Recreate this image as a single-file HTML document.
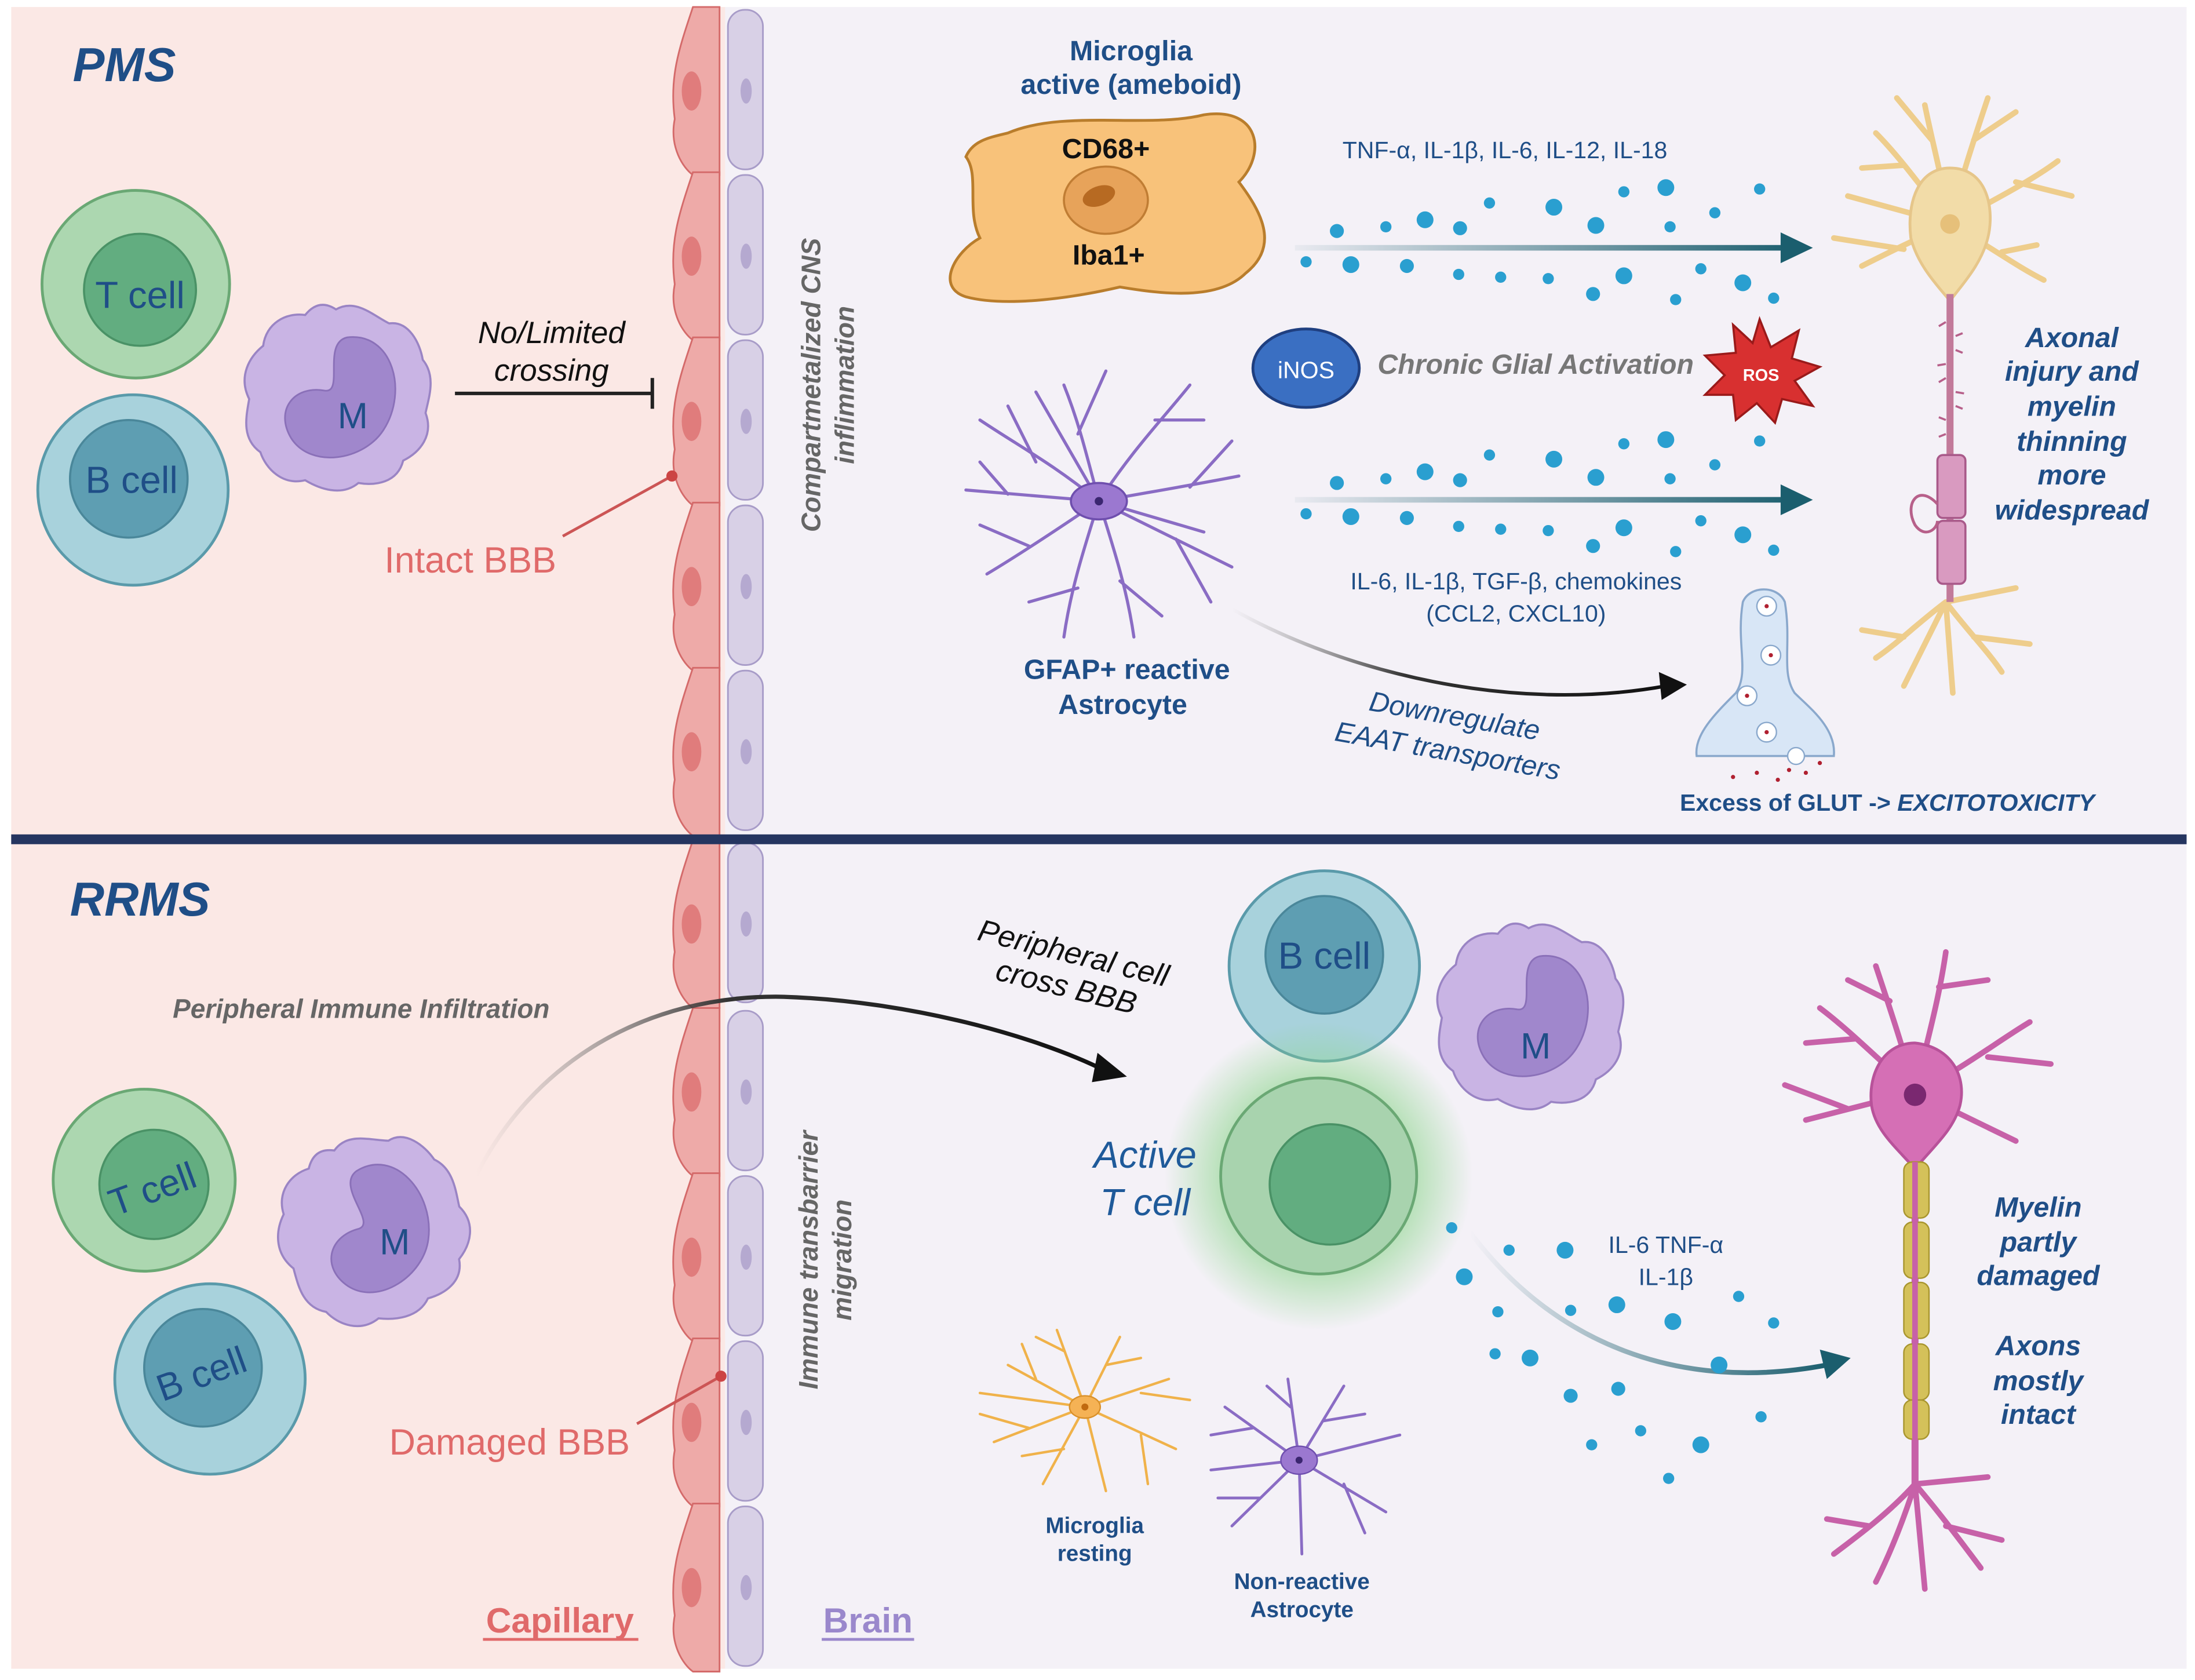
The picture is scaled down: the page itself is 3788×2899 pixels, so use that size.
<!DOCTYPE html>
<html><head><meta charset="utf-8"><style>
html,body{margin:0;padding:0;background:#fff}
svg{display:block}
text{font-family:"Liberation Sans",sans-serif}
</style></head><body>
<svg width="3788" height="2899" viewBox="0 0 1568 1200" xmlns="http://www.w3.org/2000/svg">
<defs>
<radialGradient id="glow"><stop offset="0.5" stop-color="#8fd68f" stop-opacity="0.8"/><stop offset="1" stop-color="#8fd68f" stop-opacity="0"/></radialGradient>
<linearGradient id="tealL" x1="0" x2="1"><stop offset="0" stop-color="#1b5e6e" stop-opacity="0"/><stop offset="1" stop-color="#1b5e6e"/></linearGradient>
<linearGradient id="tealH" gradientUnits="userSpaceOnUse" x1="925" y1="0" x2="1285" y2="0"><stop offset="0" stop-color="#1b5e6e" stop-opacity="0.05"/><stop offset="1" stop-color="#1b5e6e"/></linearGradient>
<linearGradient id="greyL" x1="0" x2="1"><stop offset="0" stop-color="#888" stop-opacity="0"/><stop offset="0.4" stop-color="#333"/><stop offset="1" stop-color="#111"/></linearGradient>
<g id="endo"><path d="M495,0 C485,30 478,50 482,80 C478,100 488,115 495,120 L514,120 L514,0z" fill="#eeaaa8" stroke="#d46a6a" stroke-width="1.2"/><ellipse cx="494" cy="60" rx="7" ry="14" fill="#e07c7c"/><rect x="520" y="2" width="25" height="114" rx="12" fill="#d8d0e6" stroke="#a89cc8" stroke-width="1.2"/><ellipse cx="533" cy="60" rx="4" ry="9" fill="#b5a9d0"/></g>
<g id="mac"><path d="M0,-62 C14,-70 26,-58 38,-52 C52,-54 60,-38 62,-26 C72,-14 66,2 64,12 C70,28 60,40 48,46 C44,62 28,64 16,62 C4,72 -12,66 -22,60 C-38,64 -50,52 -54,40 C-68,30 -64,14 -62,2 C-70,-14 -62,-28 -52,-36 C-50,-52 -36,-60 -22,-58 C-14,-68 -6,-66 0,-62z" fill="#c9b4e4" stroke="#9a84c4" stroke-width="1.5"/><path d="M8,-42 C40,-46 52,-4 34,24 C20,46 -18,52 -32,30 C-44,10 -30,-8 -8,-4 C6,-2 -10,-38 8,-42z" fill="#a087cc" stroke="#8a70b8" stroke-width="1.2"/></g>
</defs>
<rect width="1568" height="1200" fill="#fff"/>
<rect x="8" y="5" width="510" height="1187" fill="#fbe8e5"/>
<rect x="518" y="5" width="1044" height="1187" fill="#f4f1f7"/>
<g><use href="#endo" y="5"/><use href="#endo" y="123"/><use href="#endo" y="241"/><use href="#endo" y="359"/><use href="#endo" y="477"/><use href="#endo" y="600"/><use href="#endo" y="720"/><use href="#endo" y="838"/><use href="#endo" y="956"/><use href="#endo" y="1074"/></g>
<rect x="8" y="596" width="1554" height="7" fill="#253560"/>

<!-- TOP PANEL -->
<text x="52" y="58" font-size="34" font-weight="bold" font-style="italic" fill="#1f4e87">PMS</text>
<circle cx="97" cy="203" r="67" fill="#acd7b0" stroke="#6aa874" stroke-width="2"/><circle cx="100" cy="207" r="40" fill="#62ad80" stroke="#4a9266" stroke-width="1.5"/>
<text x="100" y="220" font-size="27" text-anchor="middle" fill="#1f4e87">T cell</text>
<circle cx="95" cy="350" r="68" fill="#a8d2dc" stroke="#5a9aaa" stroke-width="2"/><circle cx="92" cy="342" r="42" fill="#5e9eb2" stroke="#4a879a" stroke-width="1.5"/>
<text x="94" y="352" font-size="27" text-anchor="middle" fill="#1f4e87">B cell</text>
<use href="#mac" x="240" y="283"/>
<text x="252" y="306" font-size="26" text-anchor="middle" fill="#1f4e87">M</text>
<text x="394" y="245" font-size="22" font-style="italic" text-anchor="middle" fill="#111">No/Limited</text>
<text x="394" y="272" font-size="22" font-style="italic" text-anchor="middle" fill="#111">crossing</text>
<line x1="325" y1="281" x2="466" y2="281" stroke="#222" stroke-width="2.5"/><line x1="466" y1="270" x2="466" y2="292" stroke="#222" stroke-width="2.5"/>
<line x1="402" y1="383" x2="480" y2="340" stroke="#cc5555" stroke-width="2"/><circle cx="480" cy="340" r="4" fill="#cc4444"/>
<text x="336" y="409" font-size="26" text-anchor="middle" fill="#e06a6a">Intact BBB</text>
<text transform="translate(586,275) rotate(-90)" font-size="19" font-weight="bold" font-style="italic" fill="#666" text-anchor="middle">Compartmetalized CNS</text>
<text transform="translate(610,275) rotate(-90)" font-size="19" font-weight="bold" font-style="italic" fill="#666" text-anchor="middle">inflimmation</text>

<text x="808" y="43" font-size="20" font-weight="bold" text-anchor="middle" fill="#1f4e87">Microglia</text>
<text x="808" y="67" font-size="20" font-weight="bold" text-anchor="middle" fill="#1f4e87">active (ameboid)</text>
<path d="M720,95 C760,78 820,92 860,82 C900,76 905,110 885,130 C900,150 915,175 890,195 C870,215 830,210 800,205 C770,212 720,220 690,212 C668,205 682,180 700,170 C690,150 700,125 690,112 C695,100 708,98 720,95z" fill="#f8c27a" stroke="#b97d2c" stroke-width="2"/>
<ellipse cx="790" cy="143" rx="30" ry="24" fill="#e7a35a" stroke="#c07d34" stroke-width="1.5"/><ellipse cx="785" cy="140" rx="12" ry="7" fill="#b76a22" transform="rotate(-20 785 140)"/>
<text x="790" y="113" font-size="20" font-weight="bold" text-anchor="middle" fill="#111">CD68+</text>
<text x="792" y="189" font-size="20" font-weight="bold" text-anchor="middle" fill="#111">Iba1+</text>
<text x="1075" y="113" font-size="17" text-anchor="middle" fill="#1f4e87">TNF-α, IL-1β, IL-6, IL-12, IL-18</text>
<rect x="925" y="175" width="352" height="4" fill="url(#tealH)"/><path d="M1272,166 L1295,177 L1272,188z" fill="#1b5e6e"/>
<rect x="925" y="355" width="352" height="4" fill="url(#tealH)"/><path d="M1272,346 L1295,357 L1272,368z" fill="#1b5e6e"/>
<g fill="#2a9fd0">
<circle cx="955" cy="165" r="5"/><circle cx="990" cy="162" r="4"/><circle cx="1018" cy="157" r="6"/><circle cx="1043" cy="163" r="5"/><circle cx="1064" cy="145" r="4"/><circle cx="1110" cy="148" r="6"/><circle cx="1140" cy="161" r="6"/><circle cx="1160" cy="137" r="4"/><circle cx="1190" cy="134" r="6"/><circle cx="1193" cy="162" r="4"/><circle cx="1225" cy="152" r="4"/><circle cx="1257" cy="135" r="4"/>
<circle cx="933" cy="187" r="4"/><circle cx="965" cy="189" r="6"/><circle cx="1005" cy="190" r="5"/><circle cx="1042" cy="196" r="4"/><circle cx="1072" cy="198" r="4"/><circle cx="1106" cy="199" r="4"/><circle cx="1138" cy="210" r="5"/><circle cx="1160" cy="197" r="6"/><circle cx="1197" cy="214" r="4"/><circle cx="1215" cy="192" r="4"/><circle cx="1245" cy="202" r="6"/><circle cx="1267" cy="213" r="4"/>
<circle cx="955" cy="345" r="5"/><circle cx="990" cy="342" r="4"/><circle cx="1018" cy="337" r="6"/><circle cx="1043" cy="343" r="5"/><circle cx="1064" cy="325" r="4"/><circle cx="1110" cy="328" r="6"/><circle cx="1140" cy="341" r="6"/><circle cx="1160" cy="317" r="4"/><circle cx="1190" cy="314" r="6"/><circle cx="1193" cy="342" r="4"/><circle cx="1225" cy="332" r="4"/><circle cx="1257" cy="315" r="4"/>
<circle cx="933" cy="367" r="4"/><circle cx="965" cy="369" r="6"/><circle cx="1005" cy="370" r="5"/><circle cx="1042" cy="376" r="4"/><circle cx="1072" cy="378" r="4"/><circle cx="1106" cy="379" r="4"/><circle cx="1138" cy="390" r="5"/><circle cx="1160" cy="377" r="6"/><circle cx="1197" cy="394" r="4"/><circle cx="1215" cy="372" r="4"/><circle cx="1245" cy="382" r="6"/><circle cx="1267" cy="393" r="4"/>
</g>
<ellipse cx="933" cy="263" rx="38" ry="28" fill="#3a6fc2" stroke="#1f3f80" stroke-width="2"/>
<text x="933" y="270" font-size="17" text-anchor="middle" fill="#fff">iNOS</text>
<text x="1097" y="267" font-size="20" font-weight="bold" font-style="italic" text-anchor="middle" fill="#777">Chronic Glial Activation</text>
<path d="M1257,228 L1265,248 L1285,236 L1280,256 L1300,262 L1282,272 L1295,290 L1273,285 L1268,302 L1255,288 L1240,300 L1238,282 L1218,282 L1232,268 L1218,254 L1240,252 L1238,232 L1252,245z" fill="#d83030" stroke="#9a1a1a" stroke-width="1.5"/>
<text x="1258" y="272" font-size="12" font-weight="bold" text-anchor="middle" fill="#fff">ROS</text>
<g stroke="#8a6cc4" stroke-width="2.2" fill="none" stroke-linecap="round">
<path d="M785,358 C750,330 730,320 700,300 M740,330 L720,290 M785,358 C775,320 770,300 760,275 M770,310 L790,265 M785,358 C810,320 830,300 850,275 M825,300 L860,300 M785,358 C830,350 860,345 885,340 M850,348 L880,315 M785,358 C820,375 850,390 880,405 M840,385 L865,430 M785,358 C795,390 805,420 810,455 M800,415 L830,440 M785,358 C775,390 765,420 760,455 M770,420 L735,430 M785,358 C760,375 730,395 705,410 M735,390 L700,375 M785,358 L690,350 M720,353 L700,330 M785,358 L740,280 M785,358 L860,380"/>
</g>
<ellipse cx="785" cy="358" rx="20" ry="13" fill="#9b78d0" stroke="#6f4fae" stroke-width="1.5"/><circle cx="785" cy="358" r="3" fill="#3b2670"/>
<text x="805" y="485" font-size="20" font-weight="bold" text-anchor="middle" fill="#1f4e87">GFAP+ reactive</text>
<text x="802" y="510" font-size="20" font-weight="bold" text-anchor="middle" fill="#1f4e87">Astrocyte</text>
<text x="1083" y="421" font-size="17" text-anchor="middle" fill="#1f4e87">IL-6, IL-1β, TGF-β, chemokines</text>
<text x="1083" y="444" font-size="17" text-anchor="middle" fill="#1f4e87">(CCL2, CXCL10)</text>
<path d="M880,435 C960,480 1080,510 1190,490" stroke="url(#greyL)" stroke-width="2.5" fill="none"/><path d="M1185,480 L1205,489 L1187,500z" fill="#111"/>
<text transform="translate(1038,518) rotate(10)" font-size="20" font-style="italic" text-anchor="middle" fill="#1f4e87">Downregulate</text>
<text transform="translate(1033,543) rotate(10)" font-size="20" font-style="italic" text-anchor="middle" fill="#1f4e87">EAAT transporters</text>
<path d="M1245,430 C1240,460 1250,480 1240,495 C1225,510 1210,525 1212,540 L1310,540 C1312,520 1292,505 1282,495 C1272,480 1280,460 1275,430 C1270,418 1250,418 1245,430z" fill="#d8e6f6" stroke="#8aa8cc" stroke-width="1.5"/>
<g fill="#fff" stroke="#8aa8cc"><circle cx="1262" cy="433" r="7"/><circle cx="1265" cy="468" r="7"/><circle cx="1248" cy="497" r="7"/><circle cx="1262" cy="523" r="7"/><circle cx="1283" cy="540" r="6"/></g>
<g fill="#b02030"><circle cx="1262" cy="433" r="1.5"/><circle cx="1265" cy="468" r="1.5"/><circle cx="1248" cy="497" r="1.5"/><circle cx="1262" cy="523" r="1.5"/><circle cx="1238" cy="555" r="1.5"/><circle cx="1255" cy="552" r="1.5"/><circle cx="1278" cy="550" r="1.5"/><circle cx="1290" cy="552" r="1.5"/><circle cx="1300" cy="545" r="1.5"/><circle cx="1270" cy="557" r="1.5"/></g>
<text x="1200" y="579" font-size="17" font-weight="bold" fill="#1f4e87">Excess of GLUT -&gt; <tspan font-style="italic">EXCITOTOXICITY</tspan></text>
<g stroke="#eecd8c" stroke-width="4" fill="none" stroke-linecap="round">
<path d="M1393,160 C1370,130 1355,110 1340,95 M1360,118 L1330,120 M1393,160 C1388,130 1380,100 1375,75 M1380,100 L1355,70 M1393,160 C1400,130 1410,100 1420,70 M1410,100 L1440,80 M1393,160 C1420,145 1450,130 1470,115 M1440,130 L1480,140 M1393,160 C1420,175 1440,190 1460,200 M1430,180 L1455,175 M1393,160 C1370,170 1350,180 1330,190 M1360,178 L1310,170 M1393,160 L1320,140"/>
<path d="M1390,430 C1370,445 1355,460 1340,470 M1360,455 L1330,450 M1390,430 C1380,450 1370,470 1360,490 M1390,430 L1395,495 M1390,430 C1405,450 1420,465 1430,480 M1410,455 L1450,460 M1390,430 L1440,420"/>
</g>
<path d="M1393,120 C1420,120 1425,150 1420,170 C1415,190 1400,205 1393,215 C1385,205 1370,190 1365,170 C1362,145 1370,120 1393,120z" fill="#f2dca8" stroke="#e6c68a" stroke-width="2"/>
<circle cx="1393" cy="160" r="7" fill="#e6c07a"/>
<line x1="1393" y1="210" x2="1393" y2="430" stroke="#c27a9a" stroke-width="5"/>
<g stroke="#b7608a" stroke-width="1.5" fill="none"><path d="M1390,230 l-5,3 M1397,250 l5,2 M1390,270 l-5,3 M1397,290 l5,2 M1390,310 l-5,2 M1397,240 l5,-2 M1390,260 l-6,1 M1397,280 l6,1 M1390,300 l-5,-2"/></g>
<rect x="1384" y="325" width="20" height="45" rx="4" fill="#d99ac0" stroke="#a95a8a" stroke-width="1.5"/>
<rect x="1384" y="372" width="20" height="45" rx="4" fill="#d99ac0" stroke="#a95a8a" stroke-width="1.5"/>
<path d="M1384,360 C1370,345 1360,360 1368,375 C1375,385 1384,378 1384,372" fill="none" stroke="#b7608a" stroke-width="2"/>
<g font-size="20" font-weight="bold" font-style="italic" fill="#1f4e87" text-anchor="middle">
<text x="1480" y="248">Axonal</text><text x="1480" y="272">injury and</text><text x="1480" y="297">myelin</text><text x="1480" y="322">thinning</text><text x="1480" y="346">more</text><text x="1480" y="371">widespread</text></g>

<!-- BOTTOM PANEL -->
<text x="50" y="654" font-size="34" font-weight="bold" font-style="italic" fill="#1f4e87">RRMS</text>
<text x="258" y="727" font-size="19" font-weight="bold" font-style="italic" text-anchor="middle" fill="#666">Peripheral Immune Infiltration</text>
<circle cx="103" cy="843" r="65" fill="#acd7b0" stroke="#6aa874" stroke-width="2"/><circle cx="110" cy="846" r="39" fill="#62ad80" stroke="#4a9266" stroke-width="1.5"/>
<text transform="translate(112,858) rotate(-20)" font-size="27" text-anchor="middle" fill="#1f4e87">T cell</text>
<circle cx="150" cy="985" r="68" fill="#a8d2dc" stroke="#5a9aaa" stroke-width="2"/><circle cx="145" cy="977" r="42" fill="#5e9eb2" stroke="#4a879a" stroke-width="1.5"/>
<text transform="translate(147,990) rotate(-20)" font-size="27" text-anchor="middle" fill="#1f4e87">B cell</text>
<use href="#mac" transform="translate(265,878) rotate(-25)"/>
<text x="282" y="896" font-size="26" text-anchor="middle" fill="#1f4e87">M</text>
<path d="M340,840 C380,760 460,710 560,712 C650,715 740,740 790,765" stroke="url(#greyL)" stroke-width="3" fill="none"/><path d="M784,752 L805,769 L780,773z" fill="#111"/>
<text transform="translate(765,688) rotate(14)" font-size="22" font-style="italic" text-anchor="middle" fill="#111">Peripheral cell</text>
<text transform="translate(760,712) rotate(14)" font-size="22" font-style="italic" text-anchor="middle" fill="#111">cross BBB</text>
<line x1="455" y1="1017" x2="515" y2="983" stroke="#cc5555" stroke-width="2"/><circle cx="515" cy="983" r="4" fill="#cc4444"/>
<text x="364" y="1039" font-size="26" text-anchor="middle" fill="#e06a6a">Damaged BBB</text>
<text transform="translate(584,900) rotate(-90)" font-size="19" font-weight="bold" font-style="italic" fill="#666" text-anchor="middle">Immune transbarrier</text>
<text transform="translate(608,900) rotate(-90)" font-size="19" font-weight="bold" font-style="italic" fill="#666" text-anchor="middle">migration</text>
<text x="400" y="1166" font-size="25" font-weight="bold" text-anchor="middle" fill="#e06a6a">Capillary</text>
<line x1="345" y1="1171" x2="456" y2="1171" stroke="#e06a6a" stroke-width="2"/>
<text x="620" y="1166" font-size="25" font-weight="bold" text-anchor="middle" fill="#9a88cc">Brain</text>
<line x1="587" y1="1171" x2="653" y2="1171" stroke="#9a88cc" stroke-width="2"/>
<circle cx="946" cy="690" r="68" fill="#a8d2dc" stroke="#5a9aaa" stroke-width="2"/><circle cx="946" cy="682" r="42" fill="#5e9eb2" stroke="#4a879a" stroke-width="1.5"/>
<text x="946" y="692" font-size="27" text-anchor="middle" fill="#1f4e87">B cell</text>
<use href="#mac" x="1092" y="725"/>
<text x="1097" y="756" font-size="26" text-anchor="middle" fill="#1f4e87">M</text>
<circle cx="942" cy="840" r="110" fill="url(#glow)"/>
<circle cx="942" cy="840" r="70" fill="#a8d3ae" stroke="#6aa874" stroke-width="2"/><circle cx="950" cy="846" r="43" fill="#62ad80" stroke="#4a9266" stroke-width="1.5"/>
<text x="818" y="834" font-size="27" font-style="italic" text-anchor="middle" fill="#1f5a9a">Active</text>
<text x="818" y="868" font-size="27" font-style="italic" text-anchor="middle" fill="#1f5a9a">T cell</text>
<text x="1190" y="895" font-size="17" text-anchor="middle" fill="#1f4e87">IL-6 TNF-α</text>
<text x="1190" y="918" font-size="17" text-anchor="middle" fill="#1f4e87">IL-1β</text>
<path d="M1050,880 C1110,960 1200,995 1305,975" stroke="url(#tealL)" stroke-width="3.5" fill="none"/><path d="M1300,964 L1322,970 L1305,985z" fill="#1b5e6e"/>
<g fill="#2a9fd0"><circle cx="1037" cy="877" r="4"/><circle cx="1046" cy="912" r="6"/><circle cx="1078" cy="893" r="4"/><circle cx="1118" cy="893" r="6"/><circle cx="1070" cy="937" r="4"/><circle cx="1068" cy="967" r="4"/><circle cx="1093" cy="970" r="6"/><circle cx="1122" cy="936" r="4"/><circle cx="1155" cy="932" r="6"/><circle cx="1195" cy="944" r="6"/><circle cx="1242" cy="926" r="4"/><circle cx="1267" cy="945" r="4"/><circle cx="1228" cy="975" r="6"/><circle cx="1122" cy="997" r="5"/><circle cx="1156" cy="992" r="5"/><circle cx="1172" cy="1022" r="4"/><circle cx="1137" cy="1032" r="4"/><circle cx="1215" cy="1032" r="6"/><circle cx="1258" cy="1012" r="4"/><circle cx="1192" cy="1056" r="4"/></g>
<g stroke="#f0b24a" stroke-width="1.8" fill="none" stroke-linecap="round">
<path d="M775,1005 L720,975 M740,985 L730,960 M775,1005 L755,950 M760,965 L740,955 M775,1005 L800,955 M790,975 L815,970 M775,1005 L835,985 M815,995 L850,1000 M775,1005 L840,1035 M815,1025 L820,1060 M775,1005 L790,1065 M775,1005 L745,1060 M760,1035 L730,1040 M775,1005 L710,1030 M735,1020 L700,1010 M775,1005 L700,995"/></g>
<ellipse cx="775" cy="1005" rx="11" ry="8" fill="#f5b255" stroke="#d9902a"/><circle cx="775" cy="1005" r="2.5" fill="#c06a10"/>
<text x="782" y="1095" font-size="16" font-weight="bold" text-anchor="middle" fill="#1f4e87">Microglia</text>
<text x="782" y="1115" font-size="16" font-weight="bold" text-anchor="middle" fill="#1f4e87">resting</text>
<g stroke="#8a6cc4" stroke-width="2" fill="none" stroke-linecap="round">
<path d="M928,1043 L875,1005 M895,1020 L865,1025 M928,1043 L920,985 M922,1005 L905,990 M928,1043 L960,990 M945,1015 L975,1010 M928,1043 L1000,1025 M928,1043 L990,1080 M960,1060 L975,1095 M928,1043 L930,1110 M928,1043 L880,1090 M900,1070 L870,1070 M928,1043 L865,1050"/></g>
<ellipse cx="928" cy="1043" rx="13" ry="10" fill="#9b78d0" stroke="#6f4fae"/><circle cx="928" cy="1043" r="2.5" fill="#3b2670"/>
<text x="930" y="1135" font-size="16" font-weight="bold" text-anchor="middle" fill="#1f4e87">Non-reactive</text>
<text x="930" y="1155" font-size="16" font-weight="bold" text-anchor="middle" fill="#1f4e87">Astrocyte</text>
<g stroke="#c761a8" stroke-width="4" fill="none" stroke-linecap="round">
<path d="M1368,780 C1340,755 1320,735 1300,720 M1325,742 L1290,745 M1368,780 C1360,750 1350,720 1340,690 M1350,715 L1320,700 M1368,780 C1375,750 1385,715 1390,680 M1385,705 L1420,700 M1368,780 C1400,765 1425,745 1450,730 M1420,755 L1465,760 M1368,780 L1440,815 M1368,780 L1290,800 M1320,792 L1275,775"/>
<path d="M1368,1060 C1350,1080 1330,1095 1310,1110 M1335,1090 L1305,1085 M1368,1060 C1360,1085 1350,1110 1340,1130 M1368,1060 L1375,1135 M1368,1060 C1385,1080 1400,1100 1415,1120 M1390,1090 L1430,1100 M1368,1060 L1420,1055"/></g>
<path d="M1368,745 C1395,748 1405,770 1400,790 C1395,808 1380,820 1368,835 C1355,820 1340,808 1337,790 C1334,768 1345,745 1368,745z" fill="#d56fb5" stroke="#b8529a" stroke-width="2"/>
<circle cx="1368" cy="782" r="8" fill="#7a2870"/>
<line x1="1368" y1="830" x2="1368" y2="1060" stroke="#c761a8" stroke-width="5"/>
<g fill="#d4c15a" stroke="#a8952e" stroke-width="1"><rect x="1360" y="830" width="18" height="40" rx="6"/><rect x="1360" y="873" width="18" height="40" rx="6"/><rect x="1360" y="916" width="18" height="40" rx="6"/><rect x="1360" y="960" width="18" height="40" rx="6"/><rect x="1360" y="1000" width="18" height="28" rx="6"/></g>
<line x1="1368" y1="830" x2="1368" y2="1030" stroke="#c761a8" stroke-width="4"/>
<g font-size="20" font-weight="bold" font-style="italic" fill="#1f4e87" text-anchor="middle">
<text x="1456" y="869">Myelin</text><text x="1456" y="894">partly</text><text x="1456" y="918">damaged</text><text x="1456" y="968">Axons</text><text x="1456" y="993">mostly</text><text x="1456" y="1017">intact</text></g>
</svg>
</body></html>
